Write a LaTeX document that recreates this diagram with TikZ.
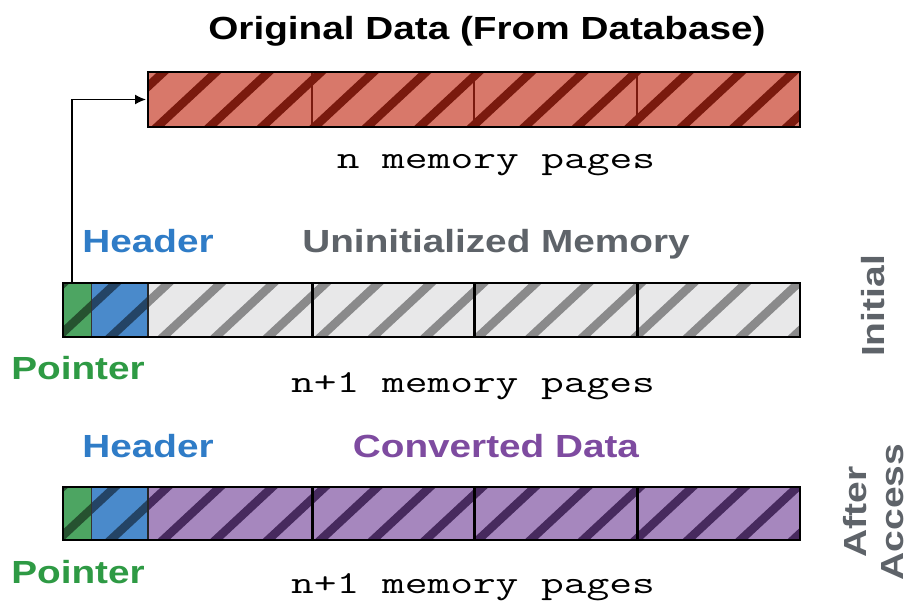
\documentclass[tikz,border=0pt]{standalone}
\usepackage{fontspec}
\setmainfont{Liberation Sans}
\usetikzlibrary{arrows.meta}
\definecolor{redfill}{HTML}{D8786A}
\definecolor{redstripe}{HTML}{7A1A0E}
\definecolor{grayfill}{HTML}{E8E8E9}
\definecolor{graystripe}{HTML}{8A8A8B}
\definecolor{purplefill}{HTML}{A687BE}
\definecolor{purplestripe}{HTML}{472A5E}
\definecolor{greenfill}{HTML}{4DA562}
\definecolor{bluefill}{HTML}{4A8ACB}
\definecolor{headerblue}{HTML}{2F7CC7}
\definecolor{ptrgreen}{HTML}{2E9A44}
\definecolor{convpurple}{HTML}{7E4BA0}
\definecolor{labelgray}{HTML}{5E6369}
\newcommand{\mystripes}[3]{%
  \foreach \i in {-4,...,16} \draw[#1, line width=8.5pt] ({#2+52.5*\i-20},{#3+18.6}) -- ({#2+52.5*\i+78},{#3-54-18.6});}
\newcommand{\stripefill}[4]{%
  \begin{scope}\clip (#1.north west) rectangle (#1.south east); \mystripes{#2}{#3}{#4}\end{scope}}
\newcommand{\wide}[1]{\scalebox{1.21}[1]{#1}}
\newcommand{\widett}[1]{\scalebox{1.38}[1]{#1}}
\newcommand{\tall}[1]{\scalebox{1}[0.82]{#1}}
\tikzset{
  cell/.style={inner sep=0pt, outer sep=0pt, anchor=north west},
  bigtxt/.style={font=\fontsize{32}{36}\selectfont\bfseries, inner sep=0pt, anchor=base},
  montxt/.style={font=\fontsize{32}{36}\selectfont\ttfamily, inner sep=0pt, anchor=base},
  sidetxt/.style={font=\fontsize{39}{40}\selectfont\bfseries, text=labelgray, inner sep=0pt, rotate=90},
}
\begin{document}
\begin{tikzpicture}[x=1pt,y=-1pt]
\useasboundingbox[fill=white] (0,0) rectangle (910,604);

% ---- top bar: original data
\foreach \n/\xa/\w in {1/148/164, 2/312/162, 3/474/163, 4/637/163}{
  \node[cell, fill=redfill, minimum width=\w, minimum height=55] (o\n) at (\xa,72) {};
}
\foreach \n in {1,2,3,4}{\stripefill{o\n}{redstripe}{157}{127}}
\foreach \n in {1,2,3}{\draw[line width=1.2pt, redstripe] (o\n.north east) -- (o\n.south east);}
\draw[line width=2pt] (o1.north west) rectangle (o4.south east);

% ---- middle bar: initial
\node[cell, fill=greenfill, minimum width=28, minimum height=54] (p1) at (63,283) {};
\node[cell, fill=bluefill, minimum width=57, minimum height=54] (h1) at (91,283) {};
\foreach \n/\xa/\w in {1/148/164, 2/312/162, 3/474/163, 4/637/163}{
  \node[cell, fill=grayfill, minimum width=\w, minimum height=54] (g\n) at (\xa,283) {};
}
\stripefill{p1}{black, opacity=0.5}{163}{337}
\stripefill{h1}{black, opacity=0.5}{163}{337}
\foreach \n in {1,2,3,4}{\stripefill{g\n}{graystripe}{163}{337}}
\draw[line width=1pt, black!80] (p1.north east) -- (p1.south east);
\draw[line width=1.2pt, black!85] (h1.north east) -- (h1.south east);
\foreach \n in {1,2,3}{\draw[line width=3pt] (g\n.north east) -- (g\n.south east);}
\draw[line width=2pt] (p1.north west) rectangle (g4.south east);

% ---- bottom bar: after access
\node[cell, fill=greenfill, minimum width=28, minimum height=53] (p2) at (63,487) {};
\node[cell, fill=bluefill, minimum width=57, minimum height=53] (h2) at (91,487) {};
\foreach \n/\xa/\w in {1/148/164, 2/312/162, 3/474/163, 4/637/163}{
  \node[cell, fill=purplefill, minimum width=\w, minimum height=53] (c\n) at (\xa,487) {};
}
\stripefill{p2}{black, opacity=0.5}{163}{540}
\stripefill{h2}{black, opacity=0.5}{163}{540}
\foreach \n in {1,2,3,4}{\stripefill{c\n}{purplestripe}{163}{540}}
\draw[line width=1pt, black!80] (p2.north east) -- (p2.south east);
\draw[line width=1.2pt, black!85] (h2.north east) -- (h2.south east);
\foreach \n in {1,2,3}{\draw[line width=3pt] (c\n.north east) -- (c\n.south east);}
\draw[line width=2pt] (p2.north west) rectangle (c4.south east);

% ---- pointer arrow
\draw[line width=1.4pt, -{Latex[length=11pt,width=10pt]}] ([xshift=-5pt]p1.north) |- ([xshift=-2pt]o1.west);

% ---- labels
\node[bigtxt] (title) at (487,40) {\wide{Original Data (From Database)}};
\node[montxt] (npages) at (496,169) {\widett{n memory pages}};
\node[bigtxt, text=headerblue] (hdr1) at (148,252) {\wide{Header}};
\node[bigtxt, text=labelgray] (uninit) at (496,252) {\wide{Uninitialized Memory}};
\node[bigtxt, text=ptrgreen] (ptr1) at (78,379) {\wide{Pointer}};
\node[montxt] (n1pages) at (473,392) {\widett{n+1 memory pages}};
\node[bigtxt, text=headerblue] (hdr2) at (148,457) {\wide{Header}};
\node[bigtxt, text=convpurple] (conv) at (496,457) {\wide{Converted Data}};
\node[bigtxt, text=ptrgreen] (ptr2) at (78,583) {\wide{Pointer}};
\node[montxt] (n2pages) at (473,593) {\widett{n+1 memory pages}};

\node[sidetxt] (initial) at (873,306) {\tall{Initial}};
\node[sidetxt] (after) at (855,512) {\tall{After}};
\node[sidetxt] (access) at (893,512) {\tall{Access}};
\end{tikzpicture}
\end{document}
